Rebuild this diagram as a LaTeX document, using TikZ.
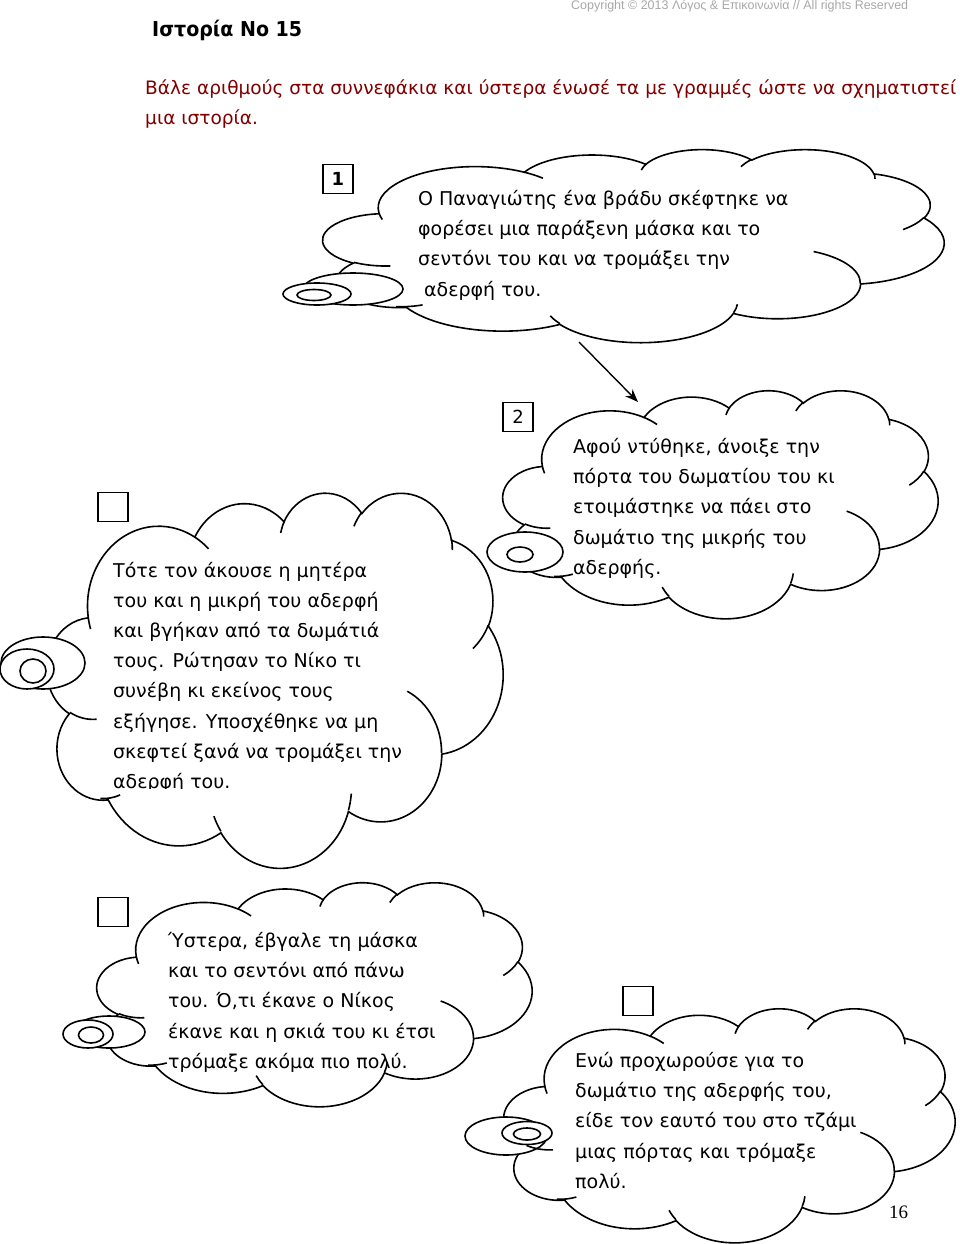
\documentclass[tikz,border=0pt]{standalone}
\usepackage{graphicx}
\usepackage{fontspec}
\setmainfont{DejaVu Sans}
\newfontfamily\serifnum{Liberation Serif}
\newfontfamily\arialf{Liberation Sans}
\usetikzlibrary{arrows.meta}
\definecolor{instr}{RGB}{128,0,0}
\definecolor{copyg}{RGB}{168,168,168}

% OOXML-style elliptic arc (visual angles converted to parametric ones)
\newcommand\ooarc[4]{\pgfextra{%
  \pgfmathparse{(#3)+mod(atan2((#1)*sin(#3),(#2)*cos(#3))-(#3)+900,360)-180}\xdef\ooS{\pgfmathresult}%
  \pgfmathparse{(#3)+(#4)+mod(atan2((#1)*sin((#3)+(#4)),(#2)*cos((#3)+(#4)))-((#3)+(#4))+900,360)-180}\xdef\ooE{\pgfmathresult}}
  arc[x radius=#1, y radius=#2, start angle=\ooS, end angle=\ooE]}

\newcommand\oocloudpath{(39.00,143.70)
  \ooarc{67.53}{91.90}{-190.487}{123.781}
  \ooarc{53.33}{72.67}{-144.102}{89.945}
  \ooarc{43.65}{59.45}{-145.808}{99.723}
  \ooarc{48.57}{65.95}{-130.986}{117.242}
  \ooarc{53.33}{72.73}{-78.709}{109.027}
  \ooarc{67.75}{92.20}{-46.267}{130.269}
  \ooarc{57.85}{78.67}{0.625}{114.033}
  \ooarc{67.52}{92.15}{22.452}{115.173}
  \ooarc{77.20}{105.43}{66.243}{75.711}
  \ooarc{43.60}{59.18}{-274.942}{146.736}
  \ooarc{43.45}{59.45}{-246.829}{152.519} -- cycle}

\newcommand\oocreasepath{%
  (46.93,261.77) \ooarc{43.45}{59.45}{86.742}{26.430}
  (69.28,348.99) \ooarc{43.60}{59.18}{73.611}{18.767}
  (164.78,390.90) \ooarc{67.52}{92.15}{137.624}{14.081}
  (288.27,347.51) \ooarc{67.52}{92.15}{6.453}{15.998}
  (341.29,229.54) \ooarc{57.85}{78.67}{-70.292}{70.917}
  (417.98,153.54) \ooarc{53.33}{72.73}{30.318}{27.752}
  (383.24,54.26) \ooarc{48.57}{65.95}{-13.744}{14.853}
  (290.78,39.52) \ooarc{48.57}{65.95}{-149.182}{18.197}
  (221.41,47.20) \ooarc{43.65}{59.45}{-163.494}{17.687}
  (140.00,51.92) \ooarc{67.53}{91.90}{-66.707}{12.319}
  (41.27,157.89) \ooarc{67.53}{91.90}{157.654}{11.858}}

% #1 left, #2 top, #3 width, #4 height, #5 tail drawing
\newcommand\oocloud[5]{%
  \begin{scope}[shift={(#1,#2)},xscale=#3/432,yscale=#4/432]
    \path[cloudline] \oocloudpath;
  \end{scope}
  #5
  \begin{scope}[shift={(#1,#2)},xscale=#3/432,yscale=#4/432]
    \path[creaseline] \oocreasepath;
  \end{scope}}

\begin{document}
\begin{tikzpicture}[x=1pt,y=-1pt,
  cloudline/.style={line width=1.6pt, draw=black, fill=white},
  creaseline/.style={line width=1.6pt, draw=black},
  tailell/.style={line width=1.6pt, draw=black, fill=white},
  cloudtext/.style={anchor=base west, inner sep=0pt, font=\fontsize{19}{30.2}\selectfont},
  numbox/.style={draw, line width=1.6pt, minimum width=30pt, minimum height=29pt, inner sep=0pt, font=\fontsize{18}{20}\selectfont},
  plaintext/.style={anchor=base west, inner sep=0pt}]

\useasboundingbox (0,0) rectangle (960,1244);
\fill[white] (0,0) rectangle (960,1244);

% header
\node[plaintext, text=copyg] (copy) at (571,10)
  {\resizebox{337pt}{\height}{\arialf\fontsize{12.5}{14}\selectfont Copyright © 2013 Λόγος \& Επικοινωνία // All rights Reserved}};
\node[plaintext] (title) at (152,36.5)
  {\resizebox{150pt}{\height}{\fontsize{20.5}{24}\selectfont\bfseries Ιστορία Νο 15}};
\node[plaintext, text=instr] (instr) at (145,95)
  {\resizebox{811pt}{\height}{\fontsize{18.5}{30}\selectfont\vtop{\baselineskip=30pt
    \hbox{Βάλε αριθμούς στα συννεφάκια και ύστερα ένωσέ τα με γραμμές ώστε να σχηματιστεί}
    \hbox{μια ιστορία.}}}};

% cloud 1
\oocloud{323}{149}{621}{193}{%
  \path[tailell] (353,289) ellipse[x radius=50, y radius=16];
  \path[tailell] (317,294) ellipse[x radius=34, y radius=11];
  \path[tailell] (314,295) ellipse[x radius=17, y radius=5.5];}
\node[cloudtext] (t1) at (418,205.5) {\vtop{\baselineskip=30.2pt
  \hbox{Ο Παναγιώτης ένα βράδυ σκέφτηκε να}
  \hbox{φορέσει μια παράξενη μάσκα και το}
  \hbox{σεντόνι του και να τρομάξει την}
  \hbox{\hspace{6pt}αδερφή του.}}};

% cloud 2
\oocloud{503}{390}{435}{228}{%
  \path[tailell] (525,552) ellipse[x radius=38, y radius=20];
  \path[tailell] (520,554.5) ellipse[x radius=13, y radius=7.5];}
\node[cloudtext] (t2) at (573,453.5) {\vtop{\baselineskip=30.2pt
  \hbox{Αφού ντύθηκε, άνοιξε την}
  \hbox{πόρτα του δωματίου του κι}
  \hbox{ετοιμάστηκε να πάει στο}
  \hbox{δωμάτιο της μικρής του}
  \hbox{αδερφής.}}};

% cloud 3
\oocloud{47}{492}{456}{375}{%
  \path[tailell] (43,663) ellipse[x radius=42, y radius=26];
  \path[tailell] (27,669) ellipse[x radius=27, y radius=20];
  \path[tailell] (33,671) ellipse[x radius=13, y radius=12];}
\begin{scope}
  \clip (100,540) rectangle (480,788);
  \node[cloudtext] (t3) at (113,577.5) {\vtop{\baselineskip=30.1pt
    \hbox{Τότε τον άκουσε η μητέρα}
    \hbox{του και η μικρή του αδερφή}
    \hbox{και βγήκαν από τα δωμάτιά}
    \hbox{τους. Ρώτησαν το Νίκο τι}
    \hbox{συνέβη κι εκείνος τους}
    \hbox{εξήγησε. Υποσχέθηκε να μη}
    \hbox{σκεφτεί ξανά να τρομάξει την}
    \hbox{αδερφή του.}}};
\end{scope}

% cloud 4
\oocloud{97}{882}{435}{224}{%
  \path[tailell] (109,1032) ellipse[x radius=36, y radius=16];
  \path[tailell] (88,1034) ellipse[x radius=25, y radius=14];
  \path[tailell] (91,1035) ellipse[x radius=12.5, y radius=8];}
\node[cloudtext] (t4) at (168,947.5) {\vtop{\baselineskip=30.2pt
  \hbox{Ύστερα, έβγαλε τη μάσκα}
  \hbox{και το σεντόνι από πάνω}
  \hbox{του. Ό,τι έκανε ο Νίκος}
  \hbox{έκανε και η σκιά του κι έτσι}
  \hbox{τρόμαξε ακόμα πιο πολύ.}}};

% cloud 5
\oocloud{504}{1008}{451}{234}{%
  \path[tailell] (506,1136) ellipse[x radius=41, y radius=19];
  \path[tailell] (527,1133) ellipse[x radius=25, y radius=11.5];
  \path[tailell] (527,1134) ellipse[x radius=13.5, y radius=6];}
\node[cloudtext] (t5) at (575,1067.5) {\vtop{\baselineskip=30.2pt
  \hbox{Ενώ προχωρούσε για το}
  \hbox{δωμάτιο της αδερφής του,}
  \hbox{είδε τον εαυτό του στο τζάμι}
  \hbox{μιας πόρτας και τρόμαξε}
  \hbox{πολύ.}}};

% number boxes
\node[numbox] (b1) at (338,179) {\bfseries 1};
\node[numbox] (b2) at (518,417) {2};
\node[numbox] (b3) at (113,507) {};
\node[numbox] (b4) at (113,912) {};
\node[numbox] (b5) at (638,1001) {};

% arrow
\coordinate (arrS) at (579,342);
\coordinate (arrE) at (638,402);
\draw[line width=1.4pt, -{Stealth[length=13pt,width=10pt]}] (arrS) -- (arrE);

% page number
\node[plaintext] (pg) at (889,1218) {\serifnum\fontsize{19}{22}\selectfont 16};
\end{tikzpicture}
\end{document}
